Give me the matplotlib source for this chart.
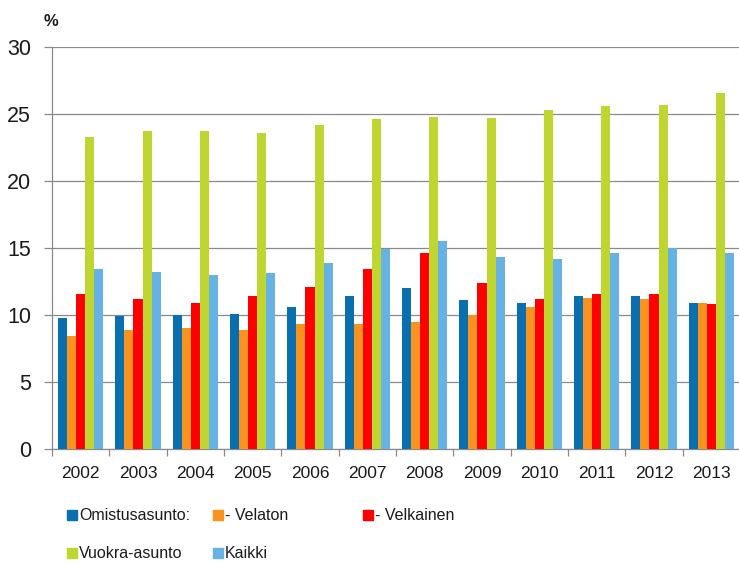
import matplotlib
matplotlib.use("Agg")
import matplotlib.pyplot as plt
import numpy as np
from matplotlib.patches import Rectangle

plt.rcParams['font.family'] = ['Liberation Sans', 'DejaVu Sans']

years = ['2002', '2003', '2004', '2005', '2006', '2007',
         '2008', '2009', '2010', '2011', '2012', '2013']
omistus = [9.8, 9.9, 10.0, 10.1, 10.6, 11.4, 12.0, 11.1, 10.9, 11.4, 11.4, 10.9]
velaton = [8.4, 8.9, 9.0, 8.9, 9.3, 9.3, 9.5, 10.0, 10.6, 11.3, 11.2, 10.9]
velkainen = [11.6, 11.2, 10.9, 11.4, 12.1, 13.4, 14.6, 12.4, 11.2, 11.6, 11.6, 10.8]
vuokra = [23.3, 23.7, 23.7, 23.6, 24.2, 24.6, 24.8, 24.7, 25.3, 25.6, 25.7, 26.6]
kaikki = [13.4, 13.2, 13.0, 13.1, 13.9, 14.9, 15.5, 14.3, 14.2, 14.6, 15.0, 14.6]

labels = ['Omistusasunto:', '- Velaton', '- Velkainen', 'Vuokra-asunto', 'Kaikki']
colors = ['#0a6fae', '#f7931e', '#ff0000', '#bfd630', '#66b2e4']
series = [omistus, velaton, velkainen, vuokra, kaikki]

W, H = 739, 563
fig = plt.figure(figsize=(W / 100, H / 100), dpi=100)
ax = fig.add_axes([52 / W, 1 - 449 / H, 688 / W, 402 / H])

x = np.arange(len(years))
bw = 0.157
for i, (vals, col) in enumerate(zip(series, colors)):
    ax.bar(x + (i - 2) * bw, vals, width=bw, color=col, zorder=3)

ax.set_xlim(-0.5, len(years) - 0.5)
ax.set_ylim(0, 30)
ax.set_yticks(range(0, 31, 5))
ax.yaxis.grid(True, color='#8a8a8a', lw=0.9, zorder=0)

for s in ['top', 'right']:
    ax.spines[s].set_visible(False)
for s in ['left', 'bottom']:
    ax.spines[s].set_color('#8a8a8a')
    ax.spines[s].set_linewidth(0.9)

ax.set_xticks(x)
ax.set_xticklabels(years)
ax.set_xticks(np.arange(-0.5, len(years), 1), minor=True)
ax.tick_params(axis='x', which='major', length=0, pad=12, labelsize=12.5, colors='#1a1a1a')
ax.tick_params(axis='x', which='minor', length=5, width=0.9, color='#8a8a8a')
ax.tick_params(axis='y', length=6, width=0.9, color='#8a8a8a', pad=9, labelsize=15.5, labelcolor='#1a1a1a')

fig.text(51 / W, 1 - 22 / H, '%', ha='center', va='center', fontsize=12,
         fontweight='bold', color='#1a1a1a')

# legend, placed by hand
leg_pos = [(67, 515), (213, 515), (363, 515), (67, 553), (213, 553)]
for (px, py), lab, col in zip(leg_pos, labels, colors):
    fig.add_artist(Rectangle(((px) / W, 1 - (py + 5) / H), 10 / W, 10 / H,
                             transform=fig.transFigure, color=col))
    fig.text((px + 12) / W, 1 - py / H, lab, ha='left', va='center',
             fontsize=11.5, color='#1a1a1a')

fig.savefig('out.png', dpi=100)
